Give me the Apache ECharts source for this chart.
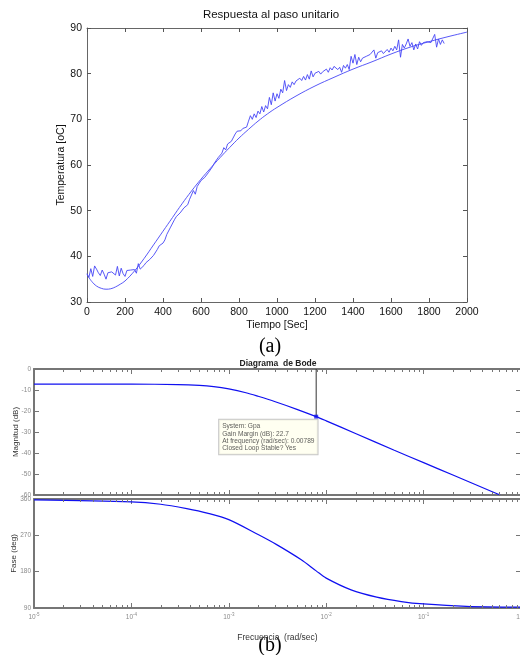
<!DOCTYPE html>
<html><head><meta charset="utf-8">
<script src="https://cdn.jsdelivr.net/npm/echarts@6/dist/echarts.min.js"></script>
<style>html,body{margin:0;padding:0;background:#fff}#c{width:520px;height:655px}</style>
</head><body><div id="c"></div>
<script>
// ---------- (a) Respuesta al paso unitario ----------
const measTime = [0,10,20,30,40,50,60,70,80,90,100,110,120,130,140,150,160,170,180,190,200,210,220,230,240,250,260,270,280,290,300,310,320,330,340,350,360,370,380,390,400,410,420,430,440,450,460,470,480,490,500,510,520,530,540,550,560,570,580,590,600,610,620,630,640,650,660,670,680,690,700,710,720,730,740,750,760,770,780,790,800,810,820,830,840,850,860,870,880,890,900,910,920,930,940,950,960,970,980,990,1000,1010,1020,1030,1040,1050,1060,1070,1080,1090,1100,1110,1120,1130,1140,1150,1160,1170,1180,1190,1200,1210,1220,1230,1240,1250,1260,1270,1280,1290,1300,1310,1320,1330,1340,1350,1360,1370,1380,1390,1400,1410,1420,1430,1440,1450,1460,1470,1480,1490,1500,1510,1520,1530,1540,1550,1560,1570,1580,1590,1600,1610,1620,1630,1640,1650,1660,1670,1680,1690,1700,1710,1720,1730,1740,1750,1760,1770,1780,1790,1800,1810,1820,1830,1840,1850,1860,1870,1880];
const measTemp = [36.2,35.4,37.3,35.6,37.9,37.2,36.4,35.8,37.0,36.1,35.0,36.4,36.0,36.6,36.3,35.9,37.8,35.7,37.4,36.2,35.6,36.9,37.2,37.0,37.3,37.1,36.3,38.4,37.2,37.0,38.0,38.6,38.2,39.3,39.0,40.2,39.8,41.5,42.3,42.0,42.9,43.6,44.8,45.2,46.4,46.1,48.0,48.7,49.0,49.5,49.8,50.6,50.4,51.3,52.5,52.2,54.4,53.6,55.3,55.0,56.6,56.2,57.3,57.0,58.4,58.1,59.6,60.4,60.8,61.6,61.4,62.6,63.8,63.3,64.6,64.5,65.2,65.6,66.8,67.4,67.6,67.5,68.0,67.9,68.3,69.6,70.8,70.0,71.2,70.4,71.8,71.2,72.8,71.6,73.0,72.3,74.8,73.2,75.8,74.0,75.6,74.6,76.6,75.8,78.5,76.3,77.6,77.0,78.2,77.6,78.4,78.0,79.0,78.5,79.4,78.6,79.8,78.8,80.6,79.3,80.1,80.0,80.5,79.9,80.4,80.2,81.0,80.3,81.3,80.8,81.6,81.9,80.9,81.4,80.3,81.8,81.2,82.0,80.9,83.8,82.3,84.2,82.0,83.6,82.6,83.4,83.0,83.8,83.4,84.2,84.6,85.2,83.4,84.6,84.2,85.0,84.4,84.8,85.3,84.7,85.6,85.0,86.0,85.2,87.4,83.6,86.4,85.6,86.5,87.6,86.0,86.8,85.2,86.5,85.4,87.0,86.2,86.8,86.4,87.0,86.6,86.8,87.2,88.6,85.8,87.6,86.4,87.4,86.6];
const modelTime = [0,25,50,75,100,125,150,175,200,250,300,350,400,450,500,550,600,650,700,750,800,850,900,950,1000,1100,1200,1300,1400,1500,1600,1700,1800,1900,2000];
const modelTemp = [36.0,34.5,33.5,33.0,32.8,32.9,33.3,33.9,34.6,36.8,39.5,42.5,45.5,48.5,51.5,54.3,56.9,59.3,61.6,63.8,65.9,67.8,69.6,71.2,72.6,75.1,77.3,79.2,81.0,82.6,84.3,85.8,87.0,88.1,89.1];
const timeTicks = {min:0, max:2000, interval:200};
const tempTicks = {min:30, max:90, interval:10};

// ---------- (b) Diagrama de Bode ----------
const magFreq = [1e-5,1e-4,3e-4,5e-4,7e-4,1e-3,1.5e-3,2e-3,3e-3,5e-3,7.89e-3,1e-2,2e-2,5e-2,1e-1,2e-1,5e-1,6.1e-1];
const magDb   = [-7.2,-7.2,-7.4,-7.8,-8.4,-9.5,-11.3,-13.0,-15.6,-19.2,-22.7,-24.7,-30.7,-38.7,-44.6,-50.5,-58.3,-60];
const phFreq  = [1e-5,1e-4,2e-4,3.7e-4,6e-4,1e-3,2e-3,3.1e-3,5.5e-3,7.89e-3,1e-2,1.8e-2,3.3e-2,5.9e-2,1e-1,2.75e-1,1];
const phDeg   = [358,353,347,336,325,309,272,247,210,182,164,135,117,106,100,94,92];
const minorFreqs = [2e-5,3e-5,4e-5,5e-5,6e-5,7e-5,8e-5,9e-5,2e-4,3e-4,4e-4,5e-4,6e-4,7e-4,8e-4,9e-4,2e-3,3e-3,4e-3,5e-3,6e-3,7e-3,8e-3,9e-3,2e-2,3e-2,4e-2,5e-2,6e-2,7e-2,8e-2,9e-2,2e-1,3e-1,4e-1,5e-1,6e-1,7e-1,8e-1,9e-1];
const freqRange = {min:1e-5, max:1};
const magTicks = {min:-60, max:0, interval:10};
const phTicks = {min:90, max:360, interval:90};
const gm = {system:'Gpa', marginDb:22.7, freq:0.00789, magAt:-22.7, stable:'Yes'};

const SANS = "'Liberation Sans', Arial, sans-serif";
const stepBlue = '#4646f6';
const bodeBlue = '#1010f0';
const frameGray = '#767676';

const chart = echarts.init(document.getElementById('c'), null, {renderer:'canvas'});

function minorTickSeries(xi, yi, yTop, yBot) {
  return {
    type:'custom', xAxisIndex:xi, yAxisIndex:yi, silent:true, clip:false, z:5,
    data: minorFreqs.map(f => [f]),
    renderItem: (params, api) => {
      const f = api.value(0);
      const t = api.coord([f, yTop]);
      const b = api.coord([f, yBot]);
      const st = {stroke:frameGray, lineWidth:1};
      return {type:'group', children:[
        {type:'line', shape:{x1:Math.round(t[0])+0.5, y1:t[1], x2:Math.round(t[0])+0.5, y2:t[1]+3}, style:st},
        {type:'line', shape:{x1:Math.round(b[0])+0.5, y1:b[1], x2:Math.round(b[0])+0.5, y2:b[1]-3}, style:st}
      ]};
    }
  };
}

const bodeAxisLine = (show) => ({show:show, onZero:false, lineStyle:{color:frameGray, width:2}});
const bodeTick = () => ({show:true, inside:true, length:5, lineStyle:{color:frameGray, width:1}});
const smallLbl = () => ({color:'#8a8a8a', fontSize:6.5, fontFamily:SANS, margin:3});
const stepTick = () => ({show:true, inside:true, length:4, lineStyle:{color:'#555', width:1}});
const stepLine = () => ({show:true, onZero:false, lineStyle:{color:'#666', width:1}});

const option = {
  animation:false,
  backgroundColor:'#fff',
  graphic:[
    {type:'text', style:{text:'Respuesta al paso unitario', x:271, y:15, textAlign:'center', textVerticalAlign:'middle', font:"11.5px 'Liberation Sans', Arial, sans-serif", fill:'#111'}},
    {type:'text', style:{text:'(a)', x:270, y:347, textAlign:'center', textVerticalAlign:'middle', font:"20px 'Liberation Serif', serif", fill:'#000'}},
    {type:'text', style:{text:'Diagrama  de Bode', x:278, y:363.5, textAlign:'center', textVerticalAlign:'middle', font:"bold 8.5px 'Liberation Sans', Arial, sans-serif", fill:'#222'}},
    {type:'text', style:{text:'(b)', x:270, y:646, textAlign:'center', textVerticalAlign:'middle', font:"20px 'Liberation Serif', serif", fill:'#000'}}
  ],
  grid:[
    {left:87, top:28, width:380, height:274, outerBoundsMode:'none', containLabel:false},
    {left:34, top:369, width:487, height:126, outerBoundsMode:'none', containLabel:false},
    {left:34, top:499, width:487, height:109, outerBoundsMode:'none', containLabel:false}
  ],
  xAxis:[
    {gridIndex:0, type:'value', position:'bottom', min:timeTicks.min, max:timeTicks.max, interval:timeTicks.interval,
     axisLine:stepLine(), axisTick:stepTick(),
     axisLabel:{color:'#111', fontSize:10.5, fontFamily:SANS, margin:5, formatter: v => String(v)}, splitLine:{show:false},
     name:'Tiempo [Sec]', nameLocation:'middle', nameGap:18, nameMoveOverlap:false, nameTextStyle:{color:'#111', fontSize:10.5, fontFamily:SANS}},
    {gridIndex:0, type:'value', position:'top', min:timeTicks.min, max:timeTicks.max, interval:timeTicks.interval,
     axisLine:stepLine(), axisTick:stepTick(), axisLabel:{show:false}, splitLine:{show:false}},
    {gridIndex:1, type:'log', logBase:10, position:'bottom', min:freqRange.min, max:freqRange.max,
     axisLine:bodeAxisLine(true), axisTick:bodeTick(), axisLabel:{show:false}, splitLine:{show:false}},
    {gridIndex:1, type:'log', logBase:10, position:'top', min:freqRange.min, max:freqRange.max,
     axisLine:bodeAxisLine(true), axisTick:bodeTick(), axisLabel:{show:false}, splitLine:{show:false}},
    {gridIndex:2, type:'log', logBase:10, position:'bottom', min:freqRange.min, max:freqRange.max,
     axisLine:bodeAxisLine(true), axisTick:bodeTick(),
     axisLabel:{color:'#8a8a8a', fontSize:6.5, fontFamily:SANS, margin:4,
       formatter: v => '10{s|' + Math.round(Math.log10(v)) + '}',
       rich:{s:{fontSize:4.5, color:'#8a8a8a', padding:[0,0,6,0], fontFamily:SANS}}},
     splitLine:{show:false},
     name:'Frecuencia  (rad/sec)', nameLocation:'middle', nameGap:25, nameMoveOverlap:false,
     nameTextStyle:{color:'#333', fontSize:8.5, fontFamily:SANS}},
    {gridIndex:2, type:'log', logBase:10, position:'top', min:freqRange.min, max:freqRange.max,
     axisLine:bodeAxisLine(true), axisTick:bodeTick(), axisLabel:{show:false}, splitLine:{show:false}}
  ],
  yAxis:[
    {gridIndex:0, type:'value', position:'left', min:tempTicks.min, max:tempTicks.max, interval:tempTicks.interval,
     axisLine:stepLine(), axisTick:stepTick(),
     axisLabel:{color:'#111', fontSize:10.5, fontFamily:SANS, margin:5}, splitLine:{show:false},
     name:'Temperatura [oC]', nameLocation:'middle', nameGap:20, nameRotate:90, nameMoveOverlap:false,
     nameTextStyle:{color:'#111', fontSize:10.5, fontFamily:SANS}},
    {gridIndex:0, type:'value', position:'right', min:tempTicks.min, max:tempTicks.max, interval:tempTicks.interval,
     axisLine:stepLine(), axisTick:stepTick(), axisLabel:{show:false}, splitLine:{show:false}},
    {gridIndex:1, type:'value', position:'left', min:magTicks.min, max:magTicks.max, interval:magTicks.interval,
     axisLine:bodeAxisLine(true), axisTick:bodeTick(), axisLabel:smallLbl(), splitLine:{show:false},
     name:'Magnitud (dB)', nameLocation:'middle', nameGap:14, nameRotate:90, nameMoveOverlap:false,
     nameTextStyle:{color:'#333', fontSize:8, fontFamily:SANS}},
    {gridIndex:1, type:'value', position:'right', min:magTicks.min, max:magTicks.max, interval:magTicks.interval,
     axisLine:bodeAxisLine(false), axisTick:bodeTick(), axisLabel:{show:false}, splitLine:{show:false}},
    {gridIndex:2, type:'value', position:'left', min:phTicks.min, max:phTicks.max, interval:phTicks.interval,
     axisLine:bodeAxisLine(true), axisTick:bodeTick(), axisLabel:smallLbl(), splitLine:{show:false},
     name:'Fase (deg)', nameLocation:'middle', nameGap:16, nameRotate:90, nameMoveOverlap:false,
     nameTextStyle:{color:'#333', fontSize:8, fontFamily:SANS}},
    {gridIndex:2, type:'value', position:'right', min:phTicks.min, max:phTicks.max, interval:phTicks.interval,
     axisLine:bodeAxisLine(false), axisTick:bodeTick(), axisLabel:{show:false}, splitLine:{show:false}}
  ],
  series:[
    {type:'line', xAxisIndex:0, yAxisIndex:0, data:measTime.map((t,i)=>[t, measTemp[i]]),
     symbol:'none', lineStyle:{color:stepBlue, width:0.9}},
    {type:'line', xAxisIndex:0, yAxisIndex:0, data:modelTime.map((t,i)=>[t, modelTemp[i]]),
     symbol:'none', smooth:0.4, lineStyle:{color:stepBlue, width:0.9}},
    {type:'line', xAxisIndex:2, yAxisIndex:2, data:magFreq.map((f,i)=>[f, magDb[i]]),
     symbol:'none', smooth:0.3, lineStyle:{color:bodeBlue, width:1.2}},
    {type:'line', xAxisIndex:4, yAxisIndex:4, data:phFreq.map((f,i)=>[f, phDeg[i]]),
     symbol:'none', smooth:0.3, lineStyle:{color:bodeBlue, width:1.2}},
    {type:'line', xAxisIndex:2, yAxisIndex:2, data:[[gm.freq, magTicks.max],[gm.freq, gm.magAt]],
     symbol:'none', lineStyle:{color:'#333', width:1}, z:3},
    {type:'scatter', xAxisIndex:2, yAxisIndex:2, data:[[gm.freq, gm.magAt]], symbol:'rect', symbolSize:4,
     itemStyle:{color:bodeBlue}, z:6,
     label:{show:true, position:[-95,5], align:'left', verticalAlign:'top',
       formatter:'System: ' + gm.system + '\nGain Margin (dB): ' + gm.marginDb + '\nAt frequency (rad/sec): ' + gm.freq + '\nClosed Loop Stable? ' + gm.stable,
       fontSize:6.6, lineHeight:7.4, fontFamily:SANS, color:'#333',
       backgroundColor:'#ffffee', borderColor:'#b8b8b8', borderWidth:1, padding:[3,3,2,3]}},
    minorTickSeries(2, 2, magTicks.max, magTicks.min),
    minorTickSeries(4, 4, phTicks.max, phTicks.min)
  ]
};
chart.setOption(option);
</script></body></html>
